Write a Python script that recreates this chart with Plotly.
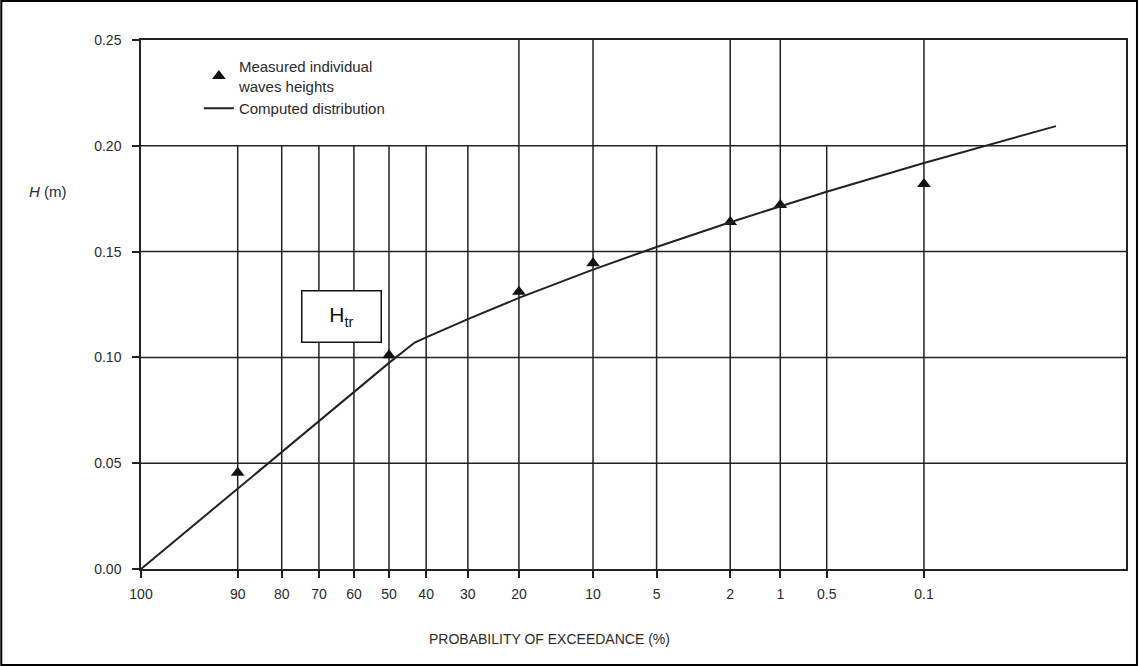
import numpy as np
import plotly.graph_objects as go

# ---- data ----
tick_probs = [100, 90, 80, 70, 60, 50, 40, 30, 20, 10, 5, 2, 1, 0.5, 0.1]
tick_labels = ["100", "90", "80", "70", "60", "50", "40", "30", "20", "10", "5", "2", "1", "0.5", "0.1"]
full_height_probs = [20, 10, 2, 1, 0.1]

measured_prob = [90, 50, 20, 10, 2, 1, 0.1]
measured_h = [0.0455, 0.101, 0.131, 0.1445, 0.164, 0.172, 0.182]

computed_prob = [100, 90, 80, 70, 60, 50, 43, 40, 30, 20, 10, 5, 2, 1, 0.5, 0.1, 0.008]
computed_h = [0.0, 0.038, 0.0553, 0.0699, 0.0836, 0.0974, 0.107, 0.1095, 0.1181,
              0.1281, 0.1415, 0.1522, 0.1639, 0.1715, 0.1783, 0.1919, 0.2093]

y_ticks = [0.0, 0.05, 0.10, 0.15, 0.20, 0.25]


def rayleigh(p):
    p = np.asarray(p, dtype=float) / 100.0
    return np.sqrt(-np.log(p))


INK = "#222222"
TXT = "#2a2a2a"
FONT = "Liberation Sans, Arial, sans-serif"

fig = go.Figure()
fig.add_trace(go.Scatter(
    x=rayleigh(measured_prob), y=measured_h, mode="markers",
    name="Measured individual<br>waves heights",
    marker=dict(symbol="triangle-up", size=12, color="#111111"),
))
fig.add_trace(go.Scatter(
    x=rayleigh(computed_prob), y=computed_h, mode="lines",
    name="Computed distribution",
    line=dict(color=INK, width=2),
))

x_max = 987 / 298.5
shapes = []
for p in tick_probs[1:]:
    top = 0.25 if p in full_height_probs else 0.20
    xv = float(rayleigh([p])[0])
    shapes.append(dict(type="line", xref="x", yref="y", x0=xv, x1=xv, y0=0, y1=top,
                       line=dict(color=INK, width=1.5), layer="below"))
for yv in y_ticks[1:-1]:
    shapes.append(dict(type="line", xref="paper", yref="y", x0=0, x1=1, y0=yv, y1=yv,
                       line=dict(color=INK, width=1.5), layer="below"))
# outer border of the picture
shapes.append(dict(type="rect", xref="paper", yref="paper",
                   x0=(1 - 141) / 987, x1=(1139 - 141) / 987,
                   y0=(569 - 665) / 529, y1=(569 - 1) / 529,
                   line=dict(color="black", width=2), fillcolor="rgba(0,0,0,0)"))

fig.update_layout(
    width=1140, height=666,
    margin=dict(l=141, r=12, t=40, b=97),
    paper_bgcolor="white", plot_bgcolor="white",
    font=dict(family=FONT, size=14, color=TXT),
    showlegend=True,
    legend=dict(x=(199 - 141) / 987, y=(569 - 50) / 529, xanchor="left", yanchor="top",
                bgcolor="rgba(0,0,0,0)", font=dict(size=15, color=TXT),
                tracegroupgap=2),
    shapes=shapes,
    annotations=[
        dict(text="<i>H</i> (m)", xref="paper", yref="paper",
             x=(48 - 141) / 987, y=(569 - 192) / 529, showarrow=False,
             xanchor="center", yanchor="middle",
             font=dict(size=15, color=TXT)),
        dict(text="PROBABILITY OF EXCEEDANCE (%)", xref="paper", yref="paper",
             x=(550 - 141) / 987, y=(569 - 639) / 529, showarrow=False,
             xanchor="center", yanchor="middle",
             font=dict(size=14, color=TXT)),
        dict(text="H<sub>tr</sub>", xref="paper", yref="paper",
             x=(342 - 141) / 987, y=(569 - 316.5) / 529, showarrow=False,
             xanchor="center", yanchor="middle",
             width=76, height=48, bordercolor="#111111", borderwidth=1.5,
             bgcolor="white", font=dict(size=21, color="#111111")),
    ],
)
fig.update_xaxes(range=[0, x_max], tickvals=list(rayleigh(tick_probs)), ticktext=tick_labels,
                 showgrid=False, zeroline=False, showline=True, linecolor=INK, linewidth=1.5,
                 mirror=True, ticks="outside", ticklen=7, tickcolor=INK, tickwidth=1.5,
                 ticklabelstandoff=4,
                 tickfont=dict(size=14, color=TXT))
fig.update_yaxes(range=[0, 0.25], tickvals=y_ticks, ticktext=[f"{v:.2f}" for v in y_ticks],
                 showgrid=False, zeroline=False, showline=True, linecolor=INK, linewidth=1.5,
                 mirror=True, ticks="outside", ticklen=7, tickcolor=INK, tickwidth=1.5,
                 ticklabelstandoff=8,
                 tickfont=dict(size=14, color=TXT))

fig.write_html("out.html")
